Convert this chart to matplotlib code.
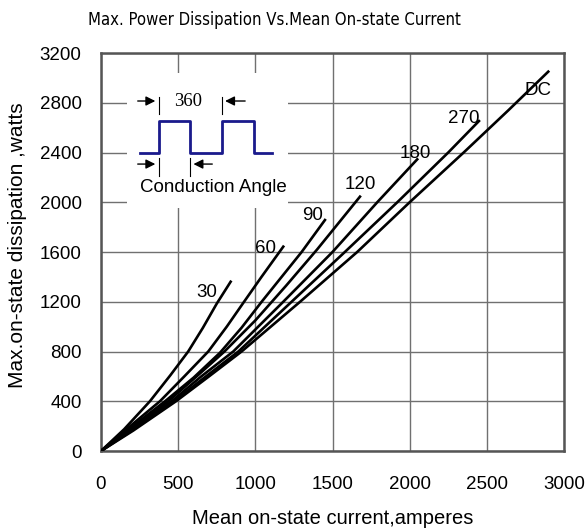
import numpy as np
import matplotlib
matplotlib.use('Agg')
import matplotlib.pyplot as plt
from matplotlib.patches import Rectangle

plt.rcParams['font.family'] = ['Liberation Sans', 'DejaVu Sans']

# curves: mean current (A) vs max power (W)
labels = ['30', '60', '90', '120', '180', '270', 'DC']
curves_x = [
    [0, 150, 317, 450, 565, 660, 750, 840],
    [0, 160, 382, 540, 695, 815, 927, 1040, 1181],
    [0, 170, 415, 600, 771, 910, 1041, 1300, 1451],
    [0, 180, 436, 620, 800, 1000, 1200, 1400, 1678],
    [0, 190, 458, 650, 857, 1181, 1500, 1790, 2049],
    [0, 200, 473, 680, 890, 1235, 1580, 1920, 2250, 2449],
    [0, 210, 486, 700, 911, 1290, 1660, 2000, 2350, 2640, 2898],
]
curves_y = [
    [0, 175, 400, 610, 800, 990, 1185, 1361],
    [0, 170, 400, 600, 800, 1000, 1200, 1400, 1643],
    [0, 165, 400, 590, 790, 990, 1200, 1600, 1857],
    [0, 165, 400, 600, 800, 1050, 1330, 1620, 2045],
    [0, 165, 400, 600, 800, 1200, 1600, 2000, 2345],
    [0, 165, 400, 600, 800, 1200, 1600, 2000, 2400, 2653],
    [0, 165, 400, 600, 800, 1200, 1600, 2000, 2400, 2740, 3050],
]
label_pos = [(685, 1273), (1063, 1630), (1372, 1892), (1678, 2139),
             (2034, 2393), (2348, 2675), (2834, 2902)]

# inset waveform
wave_x = [253, 374, 374, 577, 577, 782, 782, 991, 991, 1106]
wave_y = [2400, 2400, 2653, 2653, 2400, 2400, 2653, 2653, 2400, 2400]

fig = plt.figure(figsize=(5.87, 5.29), dpi=100)
ax = fig.add_axes([101/587, 1 - 451/529, 463/587, 398/529])

ax.set_xlim(0, 3000)
ax.set_ylim(0, 3200)
ax.set_xticks(np.arange(0, 3001, 500))
ax.set_yticks(np.arange(0, 3201, 400))
ax.tick_params(length=0, labelsize=13.5)
ax.tick_params(axis='x', pad=18)
ax.tick_params(axis='y', pad=14)
ax.grid(True, color='#707070', lw=1.0)
ax.set_axisbelow(True)
for s in ax.spines.values():
    s.set_color('#555555')
    s.set_linewidth(1.8)

# white box behind the inset
ax.add_patch(Rectangle((168, 1954), 1212 - 168, 3039 - 1954,
                       facecolor='white', edgecolor='none', zorder=1))

for xs, ys in zip(curves_x, curves_y):
    ax.plot(xs, ys, color='black', lw=1.9, zorder=3)
for lab, (lx, ly) in zip(labels, label_pos):
    ax.text(lx, ly, lab, fontsize=13.5, ha='center', va='center', zorder=4)

# conduction angle sketch
ax.plot(wave_x, wave_y, color='#1a1a8c', lw=2.0, zorder=3)
arr = dict(arrowstyle='-|>', mutation_scale=14, color='black', lw=1.0)
ax.annotate('', xy=(370, 2814), xytext=(220, 2814), arrowprops=arr, zorder=4)
ax.annotate('', xy=(786, 2814), xytext=(952, 2814), arrowprops=arr, zorder=4)
ax.annotate('', xy=(370, 2307), xytext=(220, 2307), arrowprops=arr, zorder=4)
ax.annotate('', xy=(581, 2307), xytext=(739, 2307), arrowprops=arr, zorder=4)
for bx, y0, y1 in [(374, 2709, 2846), (782, 2709, 2846),
                   (374, 2211, 2356), (577, 2211, 2356)]:
    ax.plot([bx, bx], [y0, y1], color='black', lw=0.8, zorder=4)
ax.text(563, 2814, '360', fontsize=13.5, family='Liberation Serif',
        ha='center', va='center', zorder=4)
ax.text(726, 2115, 'Conduction Angle', fontsize=13.5,
        ha='center', va='center', zorder=4)

fig.text(274/587, 1 - 20/529, 'Max. Power Dissipation Vs.Mean On-state Current',
         fontsize=12, family='DejaVu Sans', stretch='condensed',
         ha='center', va='center')
fig.text(333/587, 1 - 518/529, 'Mean on-state current,amperes',
         fontsize=14.5, ha='center', va='center')
fig.text(18/587, 1 - 388/529, 'Max.on-state dissipation ,watts',
         fontsize=15, rotation=90, ha='center', va='bottom', zorder=3)
# the original cuts the end of the y label off
mask = Rectangle((0, 1 - 90/529), 33/587, 60/529, transform=fig.transFigure,
                 facecolor='white', edgecolor='none', zorder=10)
fig.add_artist(mask)

fig.savefig('out.png', dpi=100)
